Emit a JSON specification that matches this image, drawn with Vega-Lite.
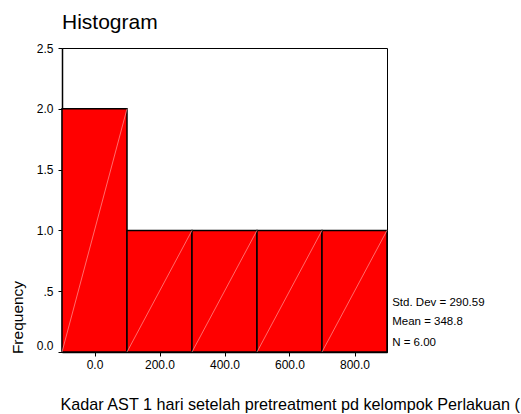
{
  "$schema": "https://vega.github.io/schema/vega-lite/v6.json",
  "autosize": {"type": "none"},
  "padding": {"left": 62, "top": 48, "right": 134, "bottom": 62},
  "width": 325,
  "height": 304,
  "background": "white",
  "config": {
    "font": "Liberation Sans",
    "view": {"stroke": "#000000", "strokeWidth": 1},
    "axis": {"grid": false, "domainColor": "#000000", "tickColor": "#000000", "labelColor": "#000000", "titleColor": "#000000", "labelFont": "Liberation Sans", "titleFont": "Liberation Sans", "titleFontWeight": "normal"}
  },
  "title": {"text": "Histogram", "anchor": "start", "frame": "group", "fontSize": 21, "fontWeight": "normal", "font": "Liberation Sans", "color": "#000000", "baseline": "alphabetic", "offset": 21, "dy": 29},
  "datasets": {
    "bins": [
      {"start": -100, "end": 100, "count": 2},
      {"start": 100, "end": 300, "count": 1},
      {"start": 300, "end": 500, "count": 1},
      {"start": 500, "end": 700, "count": 1},
      {"start": 700, "end": 900, "count": 1}
    ],
    "stats": [
      {"label": "Std. Dev = 290.59", "px": 916, "py": 0.405},
      {"label": "Mean = 348.8", "px": 916, "py": 0.249},
      {"label": "N = 6.00", "px": 916, "py": 0.076}
    ]
  },
  "layer": [
    {
      "data": {"name": "bins"},
      "mark": {"type": "rect", "fill": "#ff0000", "stroke": "#000000", "strokeWidth": 1.5},
      "encoding": {
        "x": {"field": "start", "type": "quantitative",
          "scale": {"domain": [-100, 900], "nice": false, "zero": false},
          "axis": {"title": "Kadar AST 1 hari setelah pretreatment pd kelompok Perlakuan (", "values": [0, 200, 400, 600, 800], "format": ".1f", "labelFontSize": 12, "tickSize": 4, "labelPadding": 3, "domainWidth": 1.5, "titleFontSize": 16.2, "titleAnchor": "start", "titleAlign": "left", "titleX": -2, "titleY": 52, "titleBaseline": "middle"}},
        "x2": {"field": "end"},
        "y": {"field": "count", "type": "quantitative",
          "scale": {"domain": [0, 2.5], "nice": false},
          "axis": {"title": "Frequency", "values": [0, 0.5, 1, 1.5, 2, 2.5], "labelExpr": "datum.value == 0.5 ? '.5' : format(datum.value, '.1f')", "labelFontSize": 12, "tickSize": 4, "labelPadding": 5, "domainWidth": 1.5, "labelBaseline": {"condition": {"test": "datum.value === 0", "value": "bottom"}, "value": "middle"}, "titleFontSize": 15.5, "titleAngle": 270, "titleX": -44.5, "titleY": 269, "titleAlign": "center", "titleBaseline": "middle"}},
        "y2": {"datum": 0}
      }
    },
    {
      "data": {"name": "bins"},
      "mark": {"type": "rule", "stroke": "#ff9a9a", "strokeWidth": 0.7},
      "encoding": {
        "x": {"field": "end", "type": "quantitative"},
        "x2": {"field": "start"},
        "y": {"field": "count", "type": "quantitative"},
        "y2": {"datum": 0}
      }
    },
    {
      "data": {"name": "stats"},
      "mark": {"type": "text", "align": "left", "baseline": "middle", "fontSize": 11.5, "font": "Liberation Sans", "color": "#000000"},
      "encoding": {
        "x": {"field": "px", "type": "quantitative"},
        "y": {"field": "py", "type": "quantitative"},
        "text": {"field": "label"}
      }
    }
  ]
}
